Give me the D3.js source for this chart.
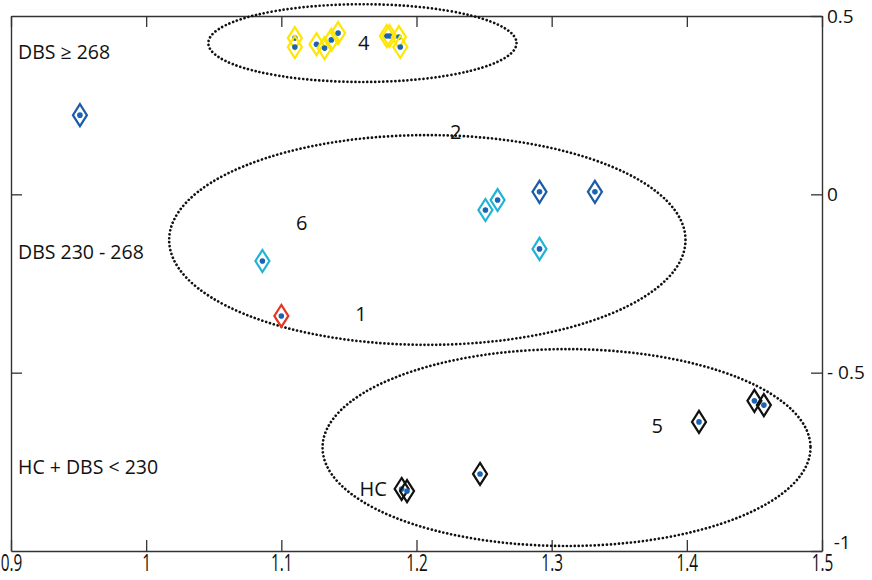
<!DOCTYPE html>
<html>
<head>
<meta charset="utf-8">
<script src="https://cdn.jsdelivr.net/npm/d3@7"></script>
<style>
  body { margin: 0; background: #fff; }
  text { font-family: "Open Sans", "Noto Sans", sans-serif; fill: #111; }
</style>
</head>
<body>
<div id="wrapper"></div>
<script>
// group values (x, y)
const ptsDBSHigh = [[1.110, 0.438], [1.110, 0.413], [1.126, 0.421], [1.132, 0.410], [1.137, 0.433],
  [1.142, 0.452], [1.178, 0.444], [1.180, 0.444], [1.187, 0.441], [1.188, 0.413]];
const ptsBlue = [[0.951, 0.222], [1.291, 0.007], [1.332, 0.007]];
const ptsCyan = [[1.251, -0.044], [1.260, -0.016], [1.291, -0.153], [1.086, -0.187]];
const ptsRed = [[1.100, -0.341]];
const ptsBlack = [[1.409, -0.638], [1.450, -0.579], [1.457, -0.591], [1.247, -0.784], [1.189, -0.826], [1.193, -0.832]];

// ellipses: centre x, centre y, radius x, radius y
const ellipses = [[1.160, 0.424, 0.114, 0.109], [1.208, -0.128, 0.191, 0.294], [1.311, -0.710, 0.1805, 0.276]];

const clusterLabels = ["4", "2", "6", "1", "5", "HC"];
const clusterLabelX = [1.161, 1.229, 1.115, 1.159, 1.378, 1.168];
const clusterLabelY = [0.427, 0.175, -0.078, -0.333, -0.647, -0.826];

const groupLabels = ["DBS \u2265 268", "DBS 230 - 268", "HC + DBS < 230"];
const groupLabelY = [0.400, -0.160, -0.762];

const xTicks = [0.9, 1, 1.1, 1.2, 1.3, 1.4, 1.5];
const yTicks = [0.5, 0, -0.5, -1];
const yTickLabels = ["0.5", "0", "- 0.5", "-1"];

const groups = [
  { pts: ptsDBSHigh, color: "#ffe600" },
  { pts: ptsBlue, color: "#1a5ca8" },
  { pts: ptsCyan, color: "#1fb3d6" },
  { pts: ptsRed, color: "#e63323" },
  { pts: ptsBlack, color: "#111111" },
];

const width = 872, height = 580;
const svg = d3.select("#wrapper").append("svg").attr("width", width).attr("height", height);

const x = d3.scaleLinear().domain([0.9, 1.5]).range([11, 822]);
const y = d3.scaleLinear().domain([-1, 0.5]).range([551, 16]);

// axes (ticks point inward)
const styleAxis = g => {
  g.selectAll(".domain").attr("stroke", "#333").attr("stroke-width", 1.4);
  g.selectAll(".tick line").attr("stroke", "#333").attr("stroke-width", 1.3);
};

svg.append("g").attr("transform", `translate(0,${y(-1)})`)
  .call(d3.axisBottom(x).tickValues(xTicks).tickSizeInner(-11).tickSizeOuter(0).tickPadding(3)
    .tickFormat(d3.format("")))
  .call(styleAxis)
  .call(g => g.selectAll(".tick text")
    .attr("font-family", "'Open Sans', sans-serif")
    .style("font-size", "24px")
    .attr("fill", "#111")
    .attr("dy", "0.72em")
    .attr("transform", "scale(0.64,1)"));

svg.append("g").attr("transform", `translate(0,${y(0.5)})`)
  .call(d3.axisTop(x).tickValues(xTicks).tickSizeInner(-11).tickSizeOuter(0).tickFormat(""))
  .call(styleAxis);

svg.append("g").attr("transform", `translate(${x(0.9)},0)`)
  .call(d3.axisLeft(y).tickValues([0, -0.5]).tickSizeInner(-11).tickSizeOuter(0).tickFormat(""))
  .call(styleAxis);

svg.append("g").attr("transform", `translate(${x(1.5)},0)`)
  .call(d3.axisRight(y).tickValues(yTicks).tickSizeInner(-11).tickSizeOuter(0).tickPadding(5)
    .tickFormat((d, i) => yTickLabels[i]))
  .call(styleAxis)
  .call(g => g.selectAll(".tick text")
    .attr("font-family", "'Open Sans', sans-serif")
    .style("font-size", "19px")
    .attr("fill", "#111")
    .attr("dx", (d, i) => i === 3 ? "0.35em" : 0)
    .attr("dy", (d, i) => i === 3 ? "-0.15em" : "0.32em"));

// dotted ellipses
svg.append("g").selectAll("ellipse").data(ellipses).join("ellipse")
  .attr("cx", d => x(d[0]))
  .attr("cy", d => y(d[1]))
  .attr("rx", d => x(d[0] + d[2]) - x(d[0]))
  .attr("ry", d => y(d[1] - d[3]) - y(d[1]))
  .attr("fill", "none")
  .attr("stroke", "#111")
  .attr("stroke-width", 2.7)
  .attr("stroke-linecap", "round")
  .attr("stroke-dasharray", "0.01 4");

// labels
svg.append("g").selectAll("text").data(clusterLabels).join("text")
  .attr("x", (d, i) => x(clusterLabelX[i]))
  .attr("y", (d, i) => y(clusterLabelY[i]))
  .attr("text-anchor", "middle")
  .attr("dominant-baseline", "central")
  .style("font-size", "20px")
  .text(d => d);

svg.append("g").selectAll("text").data(groupLabels).join("text")
  .attr("x", x(0.9) + 7)
  .attr("y", (d, i) => y(groupLabelY[i]))
  .attr("dominant-baseline", "central")
  .style("font-size", "19.5px")
  .text(d => d);

// diamond markers
const diamond = "M0,-11L7,0L0,11L-7,0Z";
groups.forEach(grp => {
  const m = svg.append("g").selectAll("g").data(grp.pts).join("g")
    .attr("transform", d => `translate(${x(d[0])},${y(d[1])})`);
  m.append("path")
    .attr("d", diamond)
    .attr("fill", "none")
    .attr("stroke", grp.color)
    .attr("stroke-width", 2.2);
  m.append("circle")
    .attr("r", 2.8)
    .attr("fill", "#1a63b5");
});
</script>
</body>
</html>
